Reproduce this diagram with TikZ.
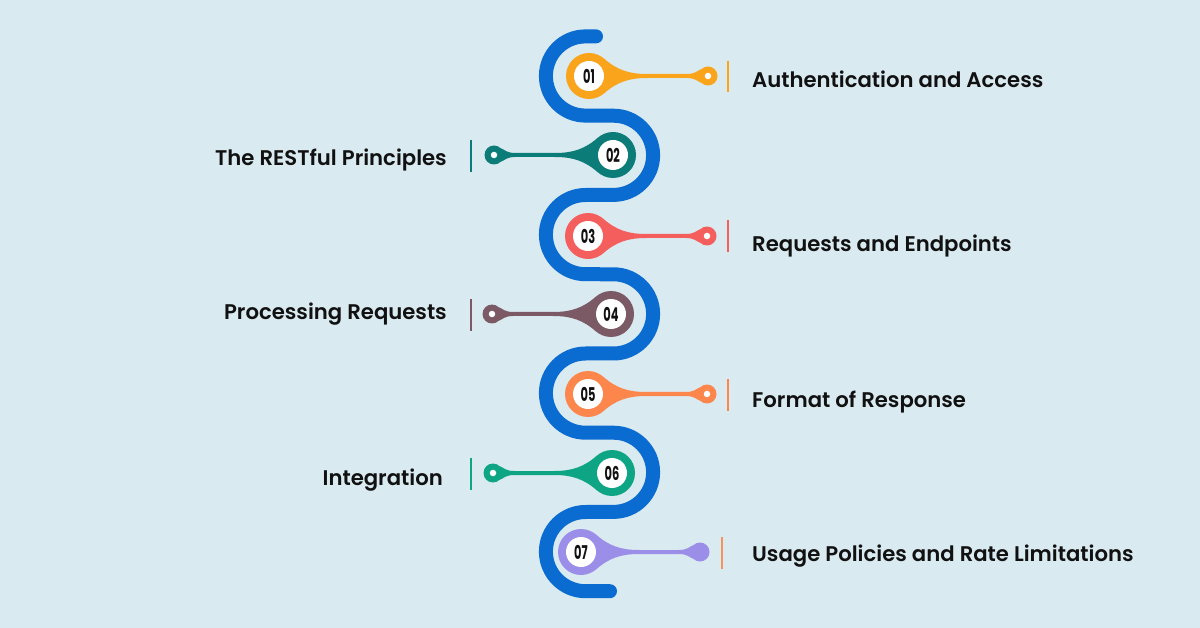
\documentclass[tikz,border=0pt]{standalone}
\usepackage{fontspec}
\usepackage{graphicx}
\setmainfont{Poppins}
\newfontfamily\lblfont{Poppins SemiBold}
\newfontfamily\numfont{Poppins Bold}
\usepackage{tikz}
\usetikzlibrary{positioning}

\definecolor{bgBlue}{HTML}{DAEAF1}
\definecolor{snake}{HTML}{0A6BD1}
\definecolor{stepA}{HTML}{F9A41B}
\definecolor{stepB}{HTML}{0B7C77}
\definecolor{stepC}{HTML}{F45F5D}
\definecolor{stepD}{HTML}{7B5A66}
\definecolor{stepE}{HTML}{FC864B}
\definecolor{stepF}{HTML}{0EA585}
\definecolor{stepG}{HTML}{9B8EE8}
\definecolor{barG}{HTML}{F8925B}
\definecolor{ink}{HTML}{111111}

\newcommand{\stepnum}[1]{\scalebox{0.6}[1]{#1}}

\begin{document}
\begin{tikzpicture}[
  x=1pt, y=-1pt,
  pin/.pic={
    \fill (0,0) circle[radius=23];
    \fill (119,0) circle[radius=9.5];
    \fill (14.8,-17.6) .. controls (28,-6) and (40,-2) .. (58,-2) -- (98,-2)
      .. controls (106,-2) and (108,-5) .. (112.5,-7) -- (112.5,7)
      .. controls (108,5) and (106,2) .. (98,2) -- (58,2)
      .. controls (40,2) and (28,6) .. (14.8,17.6) -- cycle;
  },
  numdisc/.style={circle, fill=white, minimum size=30, inner sep=0pt,
    text=ink, font=\numfont\fontsize{19}{19}\selectfont},
  dot/.style={circle, fill=white, minimum size=6.5, inner sep=0pt},
  bar/.style={line width=1.4pt},
  lbl/.style={text=ink, inner sep=0pt, font=\lblfont\fontsize{21.2}{25}\selectfont},
  snakeline/.style={draw=snake, line width=14pt, line cap=round}
]
\fill[bgBlue] (0,0) rectangle (1200,628);
\useasboundingbox (0,0) rectangle (1200,628);

\draw[snakeline] (596,36.4) -- (585.5,36.4)
  arc[start angle=270, end angle=90, radius=39.6] -- (613.5,115.7)
  arc[start angle=-90, end angle=90, radius=39.6] -- (585.5,195)
  arc[start angle=270, end angle=90, radius=39.6] -- (613.5,274.3)
  arc[start angle=-90, end angle=90, radius=39.6] -- (585.5,353.5)
  arc[start angle=270, end angle=90, radius=39.6] -- (613.5,432.7)
  arc[start angle=-90, end angle=90, radius=39.6] -- (585.5,512)
  arc[start angle=270, end angle=90, radius=39.6] -- (610,591.2);

\pic[color=stepA] at (589,76) {pin};
\pic[color=stepB, xscale=-1] at (613,155) {pin};
\pic[color=stepC] at (588,236) {pin};
\pic[color=stepD, xscale=-1] at (611,314) {pin};
\pic[color=stepE] at (588,394) {pin};
\pic[color=stepF, xscale=-1] at (612,473) {pin};
\pic[color=stepG] at (581,552) {pin};

\node[numdisc] (n1) at (589,76) {\stepnum{01}};
\node[numdisc] (n2) at (613,155) {\stepnum{02}};
\node[numdisc] (n3) at (588,236) {\stepnum{03}};
\node[numdisc] (n4) at (611,314) {\stepnum{04}};
\node[numdisc] (n5) at (588,394) {\stepnum{05}};
\node[numdisc] (n6) at (612,473) {\stepnum{06}};
\node[numdisc] (n7) at (581,552) {\stepnum{07}};

\node[dot] (d1) at (708,76) {};
\node[dot] (d2) at (494,155) {};
\node[dot] (d3) at (707,236) {};
\node[dot] (d4) at (492,314) {};
\node[dot] (d5) at (707,394) {};
\node[dot] (d6) at (493,473) {};

\draw[bar, stepA] (728,61) -- (728,92);
\draw[bar, stepB] (471,140) -- (471,172);
\draw[bar, stepC] (728,220) -- (728,252);
\draw[bar, stepD] (471,299) -- (471,331);
\draw[bar, stepE] (728,379) -- (728,411);
\draw[bar, stepF] (471,458) -- (471,490);
\draw[bar, barG] (722,537) -- (722,569);

\node[lbl, anchor=base west] (l1) at (752,88) {Authentication and Access};
\node[lbl, anchor=base east] (l2) at (447,166) {The RESTful Principles};
\node[lbl, anchor=base west] (l3) at (752,252) {Requests and Endpoints};
\node[lbl, anchor=base east] (l4) at (447,320) {Processing Requests};
\node[lbl, anchor=base west] (l5) at (752,407) {Format of Response};
\node[lbl, anchor=base east] (l6) at (443,485) {Integration};
\node[lbl, anchor=base west] (l7) at (752,561) {Usage Policies and Rate Limitations};
\end{tikzpicture}
\end{document}
